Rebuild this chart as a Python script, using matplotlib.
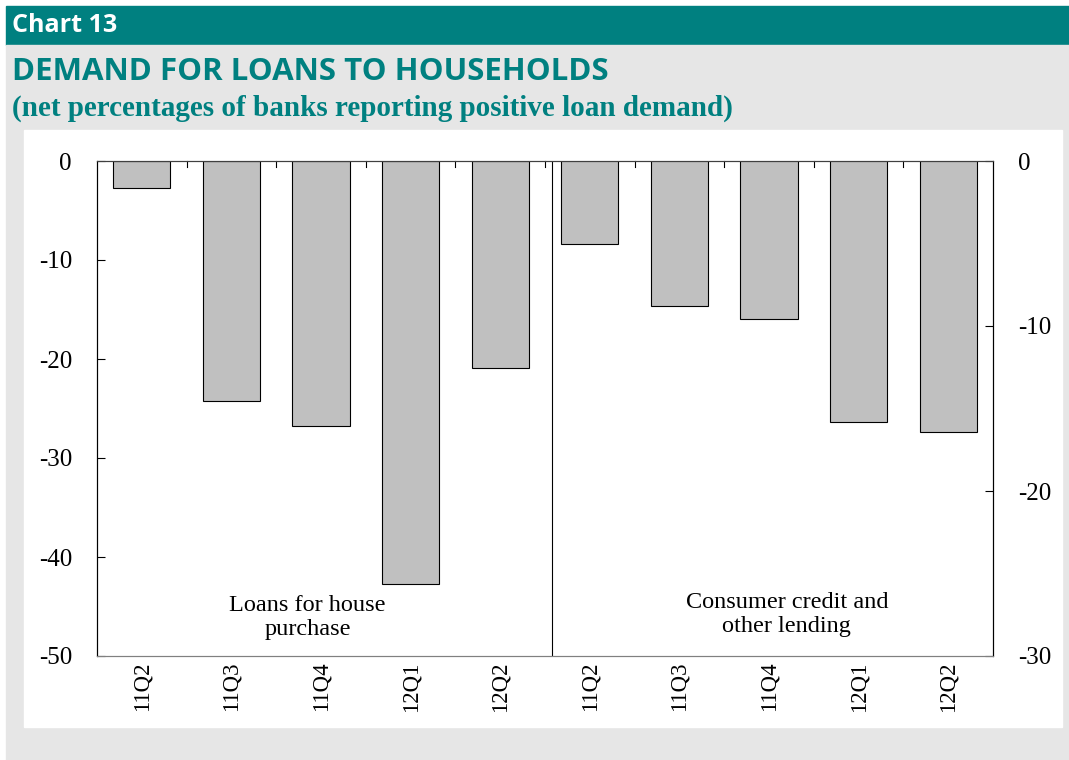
import matplotlib.pyplot as plt
from matplotlib.patches import Rectangle
import numpy as np

plt.rcParams['axes.unicode_minus'] = False

# data
quarters = ['11Q2', '11Q3', '11Q4', '12Q1', '12Q2']
house_purchase = [-2.7, -24.2, -26.8, -42.7, -20.9]       # left axis
consumer_other = [-5.0, -8.8, -9.6, -15.8, -16.4]         # right axis

teal = '#008080'
bar_color = '#c0c0c0'
serif = ['Liberation Serif', 'DejaVu Serif']
sans = ['Open Sans', 'DejaVu Sans']

W, H = 1069, 760
fig = plt.figure(figsize=(W / 100, H / 100), dpi=100)

def px_rect(x0, y0, x1, y1, color):
    fig.patches.append(Rectangle((x0 / W, 1 - y1 / H), (x1 - x0) / W, (y1 - y0) / H,
                                 transform=fig.transFigure, color=color, zorder=-10))

# header band and backgrounds
px_rect(6, 6, W, 45, teal)
px_rect(6, 45, W, H, '#e6e6e6')
px_rect(24, 130, 1062, 727, 'white')

fig.text(12 / W, 1 - 26 / H, 'Chart 13', color='white', fontsize=18, fontweight='bold',
         family=sans, va='center', ha='left')
fig.text(12 / W, 1 - 72 / H, 'DEMAND FOR LOANS TO HOUSEHOLDS', color=teal, fontsize=22.5,
         fontweight='bold', family=sans, va='center', ha='left')
fig.text(12 / W, 1 - 108 / H, '(net percentages of banks reporting positive loan demand)',
         color=teal, fontsize=21, fontweight='bold', family=serif, va='center', ha='left')

# axes
x0, x1, y0, y1 = 97, 993, 161, 656
ax = fig.add_axes([x0 / W, 1 - y1 / H, (x1 - x0) / W, (y1 - y0) / H])
ax2 = ax.twinx()

n = len(quarters)
x_left = np.arange(n)
x_right = np.arange(n) + n
bw = 0.64

ax.bar(x_left, house_purchase, width=bw, color=bar_color, edgecolor='black', linewidth=0.8)
ax2.bar(x_right, consumer_other, width=bw, color=bar_color, edgecolor='black', linewidth=0.8)

ax.set_xlim(-0.5, 2 * n - 0.5)
ax.set_ylim(-50, 0)
ax2.set_ylim(-30, 0)
ax.set_yticks(np.arange(-50, 1, 10))
ax2.set_yticks(np.arange(-30, 1, 10))

ax.set_xticks(np.concatenate([x_left, x_right]))
ax.set_xticklabels(quarters + quarters, rotation=90, family=serif, fontsize=16.5)
ax.tick_params(axis='x', length=0, pad=4)
ax.tick_params(axis='y', direction='in', length=6, pad=18, labelsize=18)
ax2.tick_params(axis='y', direction='in', length=6, pad=18, labelsize=18)
for lab in ax.get_yticklabels() + ax2.get_yticklabels():
    lab.set_family(serif)

# category separator ticks on the zero line
seps = [i + 0.5 for i in range(2 * n - 1)]
for s in seps:
    ax.plot([s, s], [0, -0.6], color='black', lw=0.8, clip_on=False)
ax.axvline(n - 0.42, color='black', lw=0.8)

for sp in ['left', 'right']:
    ax.spines[sp].set_linewidth(0.8)
    ax2.spines[sp].set_linewidth(0.8)
for a in (ax, ax2):
    a.spines['top'].set_color('#404040')
    a.spines['bottom'].set_color('#808080')

ax.text(1.85, -46.1, 'Loans for house\npurchase', ha='center', va='center',
        family=serif, fontsize=17.5, linespacing=1.15)
ax.text(7.2, -45.8, 'Consumer credit and\nother lending', ha='center', va='center',
        family=serif, fontsize=17.5, linespacing=1.15)

fig.savefig('out.png', dpi=100)
